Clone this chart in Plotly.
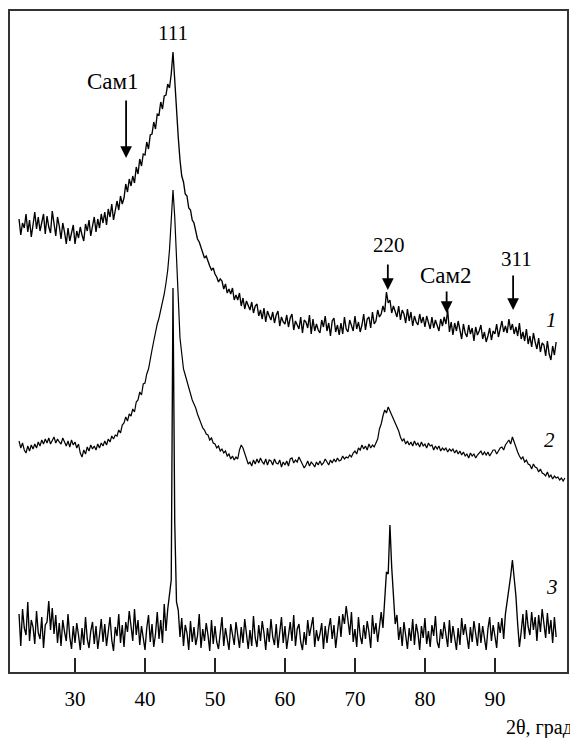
import numpy as np
import plotly.graph_objects as go

# Intensities (arbitrary units; the three patterns are vertically offset as in the figure)
# curve 1: sampled every 0.25 deg from 22.0
curve1 = [
    453, 437, 449, 444, 458, 440, 452, 435, 447, 460, 443, 455, 441, 451, 458, 438,
    456, 445, 439, 461, 448, 436, 455, 446, 433, 449, 440, 428, 444, 431, 439, 447,
    428, 441, 434, 445, 437, 431, 448, 441, 452, 436, 446, 455, 440, 453, 444, 458,
    449, 460, 447, 463, 455, 468, 452, 464, 471, 462, 476, 468, 474, 488, 480, 493,
    486, 496, 489, 505, 498, 513, 506, 518, 517, 530, 523, 537, 538, 550, 543, 558,
    557, 570, 563, 576, 577, 588, 584, 598, 620, 592, 560, 535, 512, 496, 490, 478,
    476, 464, 462, 452, 449, 441, 433, 430, 425, 420, 414, 416, 410, 406, 402, 404,
    398, 395, 390, 393, 391, 383, 388, 379, 383, 378, 384, 372, 377, 372, 379, 366,
    374, 363, 371, 367, 362, 370, 359, 366, 368, 356, 362, 353, 364, 350, 361, 356,
    352, 360, 349, 357, 361, 346, 355, 350, 348, 357, 345, 354, 358, 342, 351, 347,
    343, 355, 339, 352, 350, 344, 357, 338, 353, 341, 348, 342, 339, 352, 345, 356,
    341, 349, 336, 351, 354, 340, 347, 337, 349, 338, 355, 343, 340, 352, 345, 341,
    356, 343, 350, 340, 347, 358, 342, 353, 355, 344, 360, 348, 351, 362, 355, 358,
    366, 360, 380, 369, 372, 359, 366, 361, 355, 366, 352, 362, 358, 349, 363, 351,
    360, 346, 356, 350, 347, 358, 349, 355, 345, 356, 350, 343, 355, 344, 352, 347,
    341, 353, 346, 355, 348, 362, 340, 350, 337, 349, 341, 351, 343, 333, 348, 339,
    335, 347, 338, 344, 331, 345, 337, 341, 347, 333, 340, 330, 336, 344, 332, 341,
    338, 348, 335, 343, 351, 340, 346, 339, 353, 342, 348, 338, 345, 336, 349, 333,
    340, 331, 343, 328, 336, 325, 339, 330, 323, 334, 320, 329, 327, 316, 331, 318,
    312, 326, 317, 330,
]

# curve 2: sampled every 0.25 deg from 22.0
curve2 = [
    231, 224, 229, 222, 219, 226, 221, 227, 223, 228, 224, 230, 226, 232, 228, 233,
    229, 234, 228, 232, 235, 229, 233, 230, 228, 234, 230, 226, 231, 225, 232, 227,
    230, 224, 228, 219, 215, 222, 218, 225, 221, 227, 223, 226, 222, 228, 224, 229,
    226, 231, 227, 233, 230, 236, 233, 237, 236, 242, 239, 247, 249, 255, 251, 258,
    256, 263, 260, 270, 272, 280, 277, 288, 289, 298, 303, 314, 322, 331, 340, 348,
    354, 361, 370, 378, 389, 402, 422, 450, 482, 455, 422, 375, 334, 316, 303, 297,
    290, 283, 276, 272, 268, 264, 258, 253, 249, 244, 242, 238, 237, 232, 234, 229,
    228, 224, 226, 221, 223, 219, 221, 216, 218, 213, 216, 212, 215, 213, 222, 227,
    224, 219, 212, 208, 210, 206, 212, 208, 213, 209, 214, 210, 208, 213, 207, 212,
    211, 207, 213, 209, 208, 212, 205, 210, 207, 211, 206, 213, 214, 209, 212, 210,
    215, 211, 208, 204, 207, 211, 206, 210, 208, 205, 210, 207, 211, 207, 209, 213,
    210, 207, 212, 209, 213, 210, 214, 211, 212, 216, 213, 215, 214, 217, 215, 219,
    221, 218, 224, 222, 227, 223, 226, 222, 228, 224, 227, 225, 229, 233, 243, 248,
    256, 262, 259, 265, 261, 257, 253, 250, 246, 241, 235, 231, 233, 228, 231, 227,
    230, 226, 231, 227, 229, 225, 230, 226, 228, 224, 229, 226, 227, 222, 226, 223,
    226, 221, 224, 222, 224, 220, 223, 221, 223, 219, 222, 218, 221, 217, 220, 216,
    218, 214, 219, 216, 218, 214, 217, 219, 221, 217, 220, 217, 220, 216, 219, 222,
    222, 218, 221, 224, 225, 222, 227, 229, 232, 228, 235, 230, 224, 220, 216, 213,
    215, 210, 212, 208, 207, 203, 208, 205, 204, 200, 203, 199, 198, 196, 200, 195,
    197, 193, 196, 194, 195, 192, 194, 191, 194,
]

# curve 3: sampled every 0.25 deg from 22.0
curve3 = [
    58, 26, 63, 44, 37, 70, 31, 52, 45, 28, 61, 39, 33, 55, 24, 47,
    50, 71, 42, 64, 38, 57, 29, 49, 26, 52, 40, 31, 58, 35, 23, 46,
    29, 49, 37, 22, 44, 27, 55, 33, 24, 41, 50, 28, 46, 23, 37, 53,
    30, 48, 26, 42, 55, 32, 21, 45, 36, 58, 29, 47, 25, 50, 40, 61,
    43, 31, 63, 37, 52, 27, 46, 35, 22, 44, 57, 30, 48, 25, 38, 60,
    33, 52, 29, 68, 41, 63, 75, 92, 384, 150, 70, 62, 35, 54, 26, 47,
    39, 22, 51, 30, 45, 27, 36, 58, 24, 43, 31, 49, 37, 21, 52, 28,
    46, 30, 23, 41, 55, 26, 44, 33, 22, 48, 35, 27, 50, 38, 24, 45,
    29, 53, 40, 23, 42, 26, 56, 34, 25, 47, 31, 51, 39, 22, 44, 30,
    53, 35, 27, 48, 24, 41, 55, 29, 46, 23, 38, 50, 31, 57, 26, 43,
    48, 30, 22, 40, 27, 52, 36, 45, 55, 25, 42, 31, 38, 49, 23, 46,
    29, 44, 54, 33, 47, 24, 39, 56, 35, 58, 48, 66, 52, 37, 60, 30,
    43, 25, 55, 36, 28, 47, 33, 51, 40, 24, 57, 38, 49, 30, 45, 60,
    44, 78, 100, 98, 147, 105, 72, 48, 57, 32, 45, 26, 50, 36, 23, 44,
    31, 53, 27, 48, 39, 22, 46, 34, 54, 28, 41, 25, 47, 36, 56, 30,
    24, 43, 33, 50, 38, 25, 52, 29, 46, 31, 22, 44, 27, 54, 37, 48,
    33, 23, 45, 30, 51, 40, 26, 49, 29, 46, 34, 22, 43, 55, 31, 47,
    36, 24, 50, 39, 54, 33, 58, 70, 82, 96, 112, 95, 76, 48, 25, 40,
    58, 33, 62, 45, 37, 60, 42, 55, 31, 57, 40, 63, 46, 34, 59, 38,
    52, 29, 55, 35,
]

STEP = 0.25
START = 22.0
x1 = START + STEP * np.arange(len(curve1))
x2 = START + STEP * np.arange(len(curve2))
x3 = START + STEP * np.arange(len(curve3))

tick_vals = [30, 40, 50, 60, 70, 80, 90]

FONT = "Liberation Serif, Times New Roman, serif"

fig = go.Figure()
for xs, ys, w in ((x1, curve1, 1.35), (x2, curve2, 1.2), (x3, curve3, 1.35)):
    fig.add_trace(go.Scatter(x=xs, y=ys, mode="lines",
                             line=dict(color="black", width=w), showlegend=False,
                             hoverinfo="skip"))

# peak labels
labels = [
    dict(text="111", x=44.0, y=639, size=21),
    dict(text="Сам1", x=35.4, y=591, size=23),
    dict(text="220", x=74.85, y=427, size=21),
    dict(text="Сам2", x=83.0, y=397, size=23),
    dict(text="311", x=93.1, y=413, size=21),
]
ann = []
for l in labels:
    ann.append(dict(x=l["x"], y=l["y"], xref="x", yref="y", text=l["text"],
                    showarrow=False, font=dict(family=FONT, size=l["size"], color="black"),
                    xanchor="center", yanchor="middle"))
# arrows (tip positions + length in px)
arrows = [(37.3, 514, 59), (74.7, 382, 27), (83.1, 359, 23), (92.6, 362, 36)]
for ax_, ay_, ln in arrows:
    ann.append(dict(x=ax_, y=ay_, xref="x", yref="y", text="", showarrow=True,
                    ax=0, ay=-ln, arrowhead=2, arrowsize=1.3, arrowwidth=1.8,
                    arrowcolor="black", standoff=0))
# curve numbers
for t, xx, yy in (("1", 98.1, 352), ("2", 97.85, 232), ("3", 98.1, 85)):
    ann.append(dict(x=xx, y=yy, xref="x", yref="y", text="<i>%s</i>" % t,
                    showarrow=False, font=dict(family=FONT, size=21, color="black"),
                    xanchor="center", yanchor="middle"))
# axis title
ann.append(dict(x=1, y=0, xref="paper", yref="paper", text="2θ, град",
                showarrow=False, xanchor="right", yanchor="middle", xshift=8, yshift=-55,
                font=dict(family=FONT, size=20, color="black")))

fig.update_layout(
    width=570, height=730,
    margin=dict(l=2, r=11, t=3, b=66),
    paper_bgcolor="white", plot_bgcolor="white",
    annotations=ann,
    xaxis=dict(range=[20.71, 100.3], tickvals=tick_vals, ticks="inside", ticklen=14,
               tickwidth=1.5, tickcolor="#222", showline=True, linecolor="#333",
               linewidth=1.5, mirror=True, showgrid=False, zeroline=False,
               tickfont=dict(family=FONT, size=21, color="black"),
               ticklabelstandoff=7),
    yaxis=dict(range=[0, 661], showticklabels=False, ticks="", showline=True,
               linecolor="#333", linewidth=1.5, mirror=True, showgrid=False,
               zeroline=False),
)

fig.write_html("out.html")
